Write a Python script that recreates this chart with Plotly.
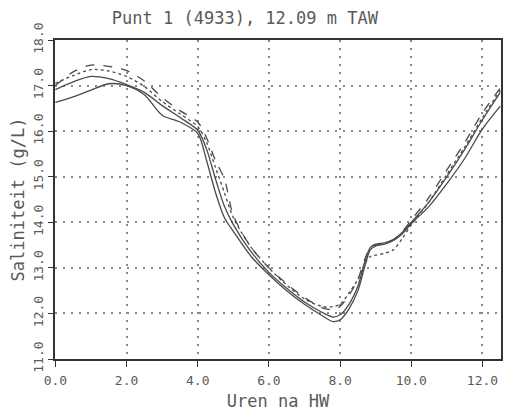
import plotly.graph_objects as go

hours = [0, 0.5, 1.0, 1.5, 2.0, 2.5, 3.0, 3.5, 4.0, 4.25, 4.5, 4.75, 5.0, 5.5, 6.0,
         6.5, 7.0, 7.5, 7.8, 8.0, 8.25, 8.5, 8.7, 8.85, 9.0, 9.25, 9.5, 9.75, 10.0,
         10.5, 11.0, 11.5, 12.0, 12.5]

solid_upper = [16.91, 17.08, 17.2, 17.15, 17.02, 16.85, 16.56, 16.3, 16.02, 15.6, 14.95,
               14.35, 13.95, 13.35, 12.9, 12.55, 12.25, 12.02, 11.92, 11.97, 12.2, 12.6,
               13.15, 13.45, 13.52, 13.55, 13.62, 13.78, 14.0, 14.45, 15.0, 15.6, 16.25, 16.85]

solid_lower = [16.63, 16.75, 16.9, 17.04, 17.0, 16.8, 16.35, 16.2, 15.95, 15.35, 14.65,
               14.1, 13.8, 13.25, 12.85, 12.5, 12.2, 11.95, 11.82, 11.86, 12.1, 12.5,
               13.05, 13.4, 13.48, 13.52, 13.6, 13.75, 13.97, 14.35, 14.85, 15.4, 16.05, 16.55]

dashed = [17.0, 17.3, 17.45, 17.42, 17.33, 17.1, 16.74, 16.45, 16.2, 15.85, 15.35,
          14.95, 14.15, 13.45, 13.0, 12.65, 12.35, 12.12, 12.08, 12.15, 12.4, 12.75,
          13.2, 13.45, 13.5, 13.55, 13.62, 13.8, 14.05, 14.55, 15.15, 15.75, 16.4, 16.95]

dotted = [17.05, 17.22, 17.35, 17.32, 17.2, 16.98, 16.65, 16.38, 16.1, 15.75, 15.2,
          14.65, 14.1, 13.45, 13.0, 12.62, 12.32, 12.15, 12.15, 12.2, 12.45, 12.75,
          13.1, 13.25, 13.28, 13.32, 13.4, 13.65, 13.95, 14.45, 15.05, 15.65, 16.3, 16.9]

x_ticks = [0, 2, 4, 6, 8, 10, 12]
x_labels = ["0.0", "2.0", "4.0", "6.0", "8.0", "10.0", "12.0"]
y_ticks = [11, 12, 13, 14, 15, 16, 17, 18]
y_labels = ["11.0", "12.0", "13.0", "14.0", "15.0", "16.0", "17.0", "18.0"]

title_text = "Punt 1 (4933), 12.09 m TAW"
x_title = "Uren na HW"
y_title = "Saliniteit (g/L)"

FONT = "DejaVu Sans Mono"
TXT = "#5a5a5a"
LINE = "#4a4a4a"
GRID = "#8a8a8a"

fig = go.Figure()
for ys, dash in [(solid_upper, "solid"), (solid_lower, "solid"),
                 (dashed, "dash"), (dotted, "dot")]:
    fig.add_trace(go.Scatter(x=hours, y=ys, mode="lines",
                             line=dict(color=LINE, width=1.3, dash=dash,
                                       shape="spline", smoothing=0.8),
                             showlegend=False, hoverinfo="skip"))

fig.update_layout(
    width=506, height=411,
    margin=dict(l=55, r=3, t=40, b=49),
    paper_bgcolor="white", plot_bgcolor="white",
    font=dict(family=FONT, color=TXT, size=13),
    title=dict(text=title_text, x=0.484, xanchor="center", xref="container",
               y=0.955, yanchor="middle", yref="container",
               font=dict(family=FONT, size=17, color=TXT)),
)
fig.update_xaxes(
    range=[-0.01, 12.52], tickmode="array", tickvals=x_ticks, ticktext=x_labels,
    showgrid=True, gridcolor=GRID, griddash="2px,6px", gridwidth=1.5,
    showline=True, linecolor="#333333", linewidth=1.5, mirror=True,
    ticks="outside", ticklen=6, tickcolor="#333333",
    zeroline=False, tickfont=dict(size=13, family=FONT, color=TXT),
    ticklabelstandoff=3,
    title=dict(text=x_title, font=dict(size=17, family=FONT, color=TXT), standoff=8),
)
fig.update_yaxes(
    range=[11, 18], tickmode="array", tickvals=y_ticks, ticktext=y_labels,
    tickangle=-90,
    showgrid=True, gridcolor=GRID, griddash="2px,6px", gridwidth=1.5,
    showline=True, linecolor="#333333", linewidth=1.5, mirror=True,
    ticks="outside", ticklen=5, tickcolor="#333333",
    zeroline=False, tickfont=dict(size=13, family=FONT, color=TXT),
    title=dict(text=y_title, font=dict(size=17, family=FONT, color=TXT), standoff=2),
)

fig.write_html("out.html")
